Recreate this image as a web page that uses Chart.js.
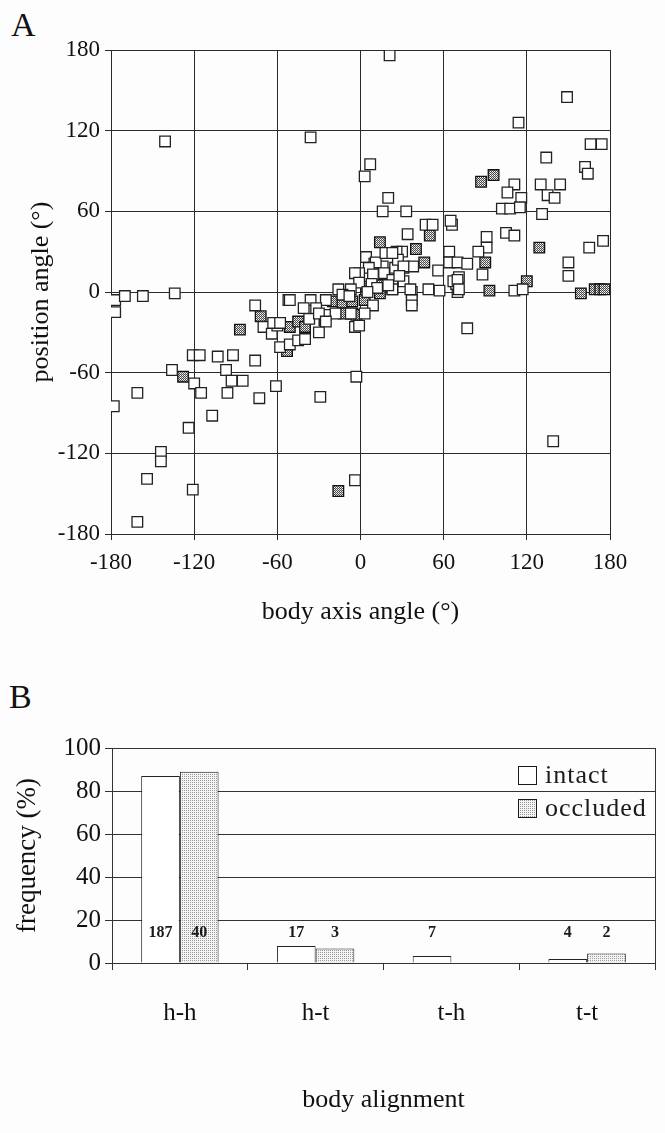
<!DOCTYPE html>
<html>
<head>
<meta charset="utf-8">
<script src="https://cdn.jsdelivr.net/npm/chart.js@4.4.0/dist/chart.umd.min.js"></script>
<style>
	body { margin: 0; background: #fefdfd; width: 665px; height: 1133px; overflow: hidden; position: relative; font-family: 'Liberation Serif', 'DejaVu Serif', serif; }
	canvas { position: absolute; left: 0; }
	#scatterA { top: 0; }
	#barB { top: 700px; }
	.panel { position: absolute; font-size: 34px; color: #111; line-height: 1; }
</style>
</head>
<body>
<div class="panel" style="left:11px;top:8px">A</div>
<div class="panel" style="left:9px;top:680px">B</div>
<canvas id="scatterA" width="665" height="640"></canvas>
<canvas id="barB" width="665" height="433"></canvas>
<script>
const serif = "'Liberation Serif', 'DejaVu Serif', serif";
const ink = '#1a1a1a';

// panel A : body axis angle vs position angle
const angleTicks = [-180, -120, -60, 0, 60, 120, 180];
const intactPoints = [
	[21,176],[149,145],[114,126],[166,110],[174,110],[-141,112],[-36,115],
	[134,100],[162,93],[164,88],[7,95],[3,86],
	[111,80],[106,74],[116,70],[102,62],[108,62],[115,63],
	[130,80],[144,80],[135,72],[140,70],[131,58],
	[20,70],[16,60],[33,60],[47,50],[52,50],[66,50],[65,53],[34,43],
	[30,30],[4,26],[10,21],[16,19],[25,18],[31,18],[38,19],[56,16],
	[91,41],[91,33],[85,30],[105,44],[111,42],[64,30],[64,22],[70,22],[77,21],[88,13],[71,11],
	[165,33],[175,38],[150,22],[150,12],
	[111,1],[117,2],[37,0],[49,2],[57,1],[37,-6],[37,-10],[70,0],[69,6],[67,8],[70,9],[71,2],
	[77,-27],[139,-111],
	[11,22],[18,29],[26,30],[27,24],[23,29],[31,19],[6,18],[-1,14],[9,13],[17,14],[-4,14],[-1,7],
	[-7,2],[-16,2],[-13,-2],[9,-10],[3,-16],[-4,-26],[-1,-25],
	[23,9],[31,8],[23,2],[36,2],[20,5],[28,12],[8,6],[12,3],[5,0],[-8,-3],
	[-177,-6],[-177,-15],[-170,-3],[-157,-3],[-134,-1],
	[-76,-10],[-70,-26],[-64,-31],[-60,-25],[-52,-6],
	[-51,-6],[-36,-6],[-25,-6],
	[-41,-12],[-32,-12],[-25,-17],[-18,-16],[-7,-16],[-37,-20],[-30,-16],[-25,-22],[-30,-30],
	[-63,-23],[-58,-23],
	[-58,-41],[-51,-39],[-45,-36],[-40,-35],
	[-121,-47],[-116,-47],[-103,-48],[-92,-47],[-76,-51],[-97,-58],[-136,-58],
	[-120,-68],[-115,-75],[-93,-66],[-85,-66],[-96,-75],[-73,-79],[-61,-70],[-107,-92],
	[-161,-75],[-178,-85],[-124,-101],[-144,-119],[-144,-126],[-154,-139],[-121,-147],[-161,-171],
	[-29,-78],[-3,-63],[-4,-140]
];
const occludedPoints = [
	[87,82],[96,87],[50,42],[14,37],[40,32],[46,22],[90,22],[129,33],[120,8],
	[159,-1],[169,2],[173,2],[176,2],[93,1],
	[15,13],[15,5],[23,2],[14,-1],[4,4],[14,5],
	[-20,-7],[-13,-8],[-6,-7],[3,-6],[-12,-16],[-6,-16],[-3,-17],
	[-51,-26],[-45,-22],[-40,-26],[-26,-21],
	[-72,-18],[-87,-28],[-53,-44],[-128,-63],[-16,-148]
];

// panel B : body alignment frequencies
const alignments = ['h-h', 'h-t', 't-h', 't-t'];
const intactFreq = [87.0, 7.9, 3.3, 1.9];
const occludedFreq = [88.9, 6.7, 0, 4.4];
const intactCounts = [187, 17, 7, 4];
const occludedCounts = [40, 3, null, 2];
const freqTicks = [0, 20, 40, 60, 80, 100];

function makePattern(w, h, bg, dots) {
	const c = document.createElement('canvas');
	c.width = w; c.height = h;
	const g = c.getContext('2d');
	g.fillStyle = bg;
	g.fillRect(0, 0, w, h);
	dots.forEach(d => {
		g.fillStyle = d[2];
		g.fillRect(d[0], d[1], 1, 1);
	});
	return g.createPattern(c, 'repeat');
}

// speckled fills (occluded)
const darkDots = makePattern(2, 2, '#4a4a4a', [[1,0,'#c8c8c8'],[0,1,'#ffffff']]);
const lightDots = makePattern(2, 2, '#f4f4f4', [[0,0,'#9a9a9a']]);

const toXY = p => ({ x: p[0], y: p[1] });

window.scatter_angle = () => {
	let chartId = 'scatterA';
	const canvas = document.getElementById(chartId);
	if (canvas == null) return;

	const angleAxis = (title, fit, tpad) => ({
		type: 'linear',
		min: -180,
		max: 180,
		afterBuildTicks: s => { s.ticks = angleTicks.map(v => ({ value: v })); },
		afterFit: fit,
		grid: { color: '#2a2a2a', lineWidth: 1, tickLength: 6 },
		border: { color: '#2a2a2a' },
		ticks: { color: '#111', font: { family: serif, size: 23 }, padding: tpad },
		title: { display: true, text: title, color: '#111', font: { family: serif, size: 26 } }
	});

	const xAxis = angleAxis('body axis angle (°)', s => { s.height = 106; }, 9);
	xAxis.title.padding = { top: 0, bottom: 12 };
	const yAxis = angleAxis('position angle (°)', s => { s.width = 111; }, 5);
	yAxis.title.padding = { top: 26, bottom: 0 };

	const config = {
		type: 'scatter',
		data: {
			datasets: [{
				label: 'intact',
				data: intactPoints.map(toXY),
				pointStyle: 'rect',
				pointRadius: 7.5,
				pointBackgroundColor: '#ffffff',
				pointBorderColor: '#222',
				pointBorderWidth: 1.3
			}, {
				label: 'occluded',
				data: occludedPoints.map(toXY),
				pointStyle: 'rect',
				pointRadius: 7.5,
				pointBackgroundColor: darkDots,
				pointBorderColor: '#111',
				pointBorderWidth: 1.3
			}]
		},
		options: {
			responsive: false,
			animation: false,
			layout: { padding: { top: 50, right: 55, left: 0, bottom: 0 } },
			scales: { x: xAxis, y: yAxis },
			plugins: { legend: { display: false }, tooltip: { enabled: false } }
		}
	};
	new Chart(canvas.getContext('2d'), config);
};

window.bar_alignment = () => {
	let chartId = 'barB';
	const canvas = document.getElementById(chartId);
	if (canvas == null) return;

	const frame = {
		id: 'frame',
		afterDatasetsDraw(chart) {
			const { ctx, chartArea } = chart;
			ctx.save();
			ctx.strokeStyle = '#333';
			ctx.lineWidth = 1;
			ctx.beginPath();
			ctx.moveTo(chartArea.right + 0.5, chartArea.top);
			ctx.lineTo(chartArea.right + 0.5, chartArea.bottom);
			ctx.stroke();
			ctx.restore();
		}
	};

	const counts = {
		id: 'counts',
		afterDatasetsDraw(chart) {
			const { ctx, scales } = chart;
			const y = scales.y.getPixelForValue(13.8);
			ctx.save();
			ctx.font = 'bold 16px ' + serif;
			ctx.textAlign = 'center';
			ctx.textBaseline = 'middle';
			ctx.fillStyle = ink;
			[intactCounts, occludedCounts].forEach((list, i) => {
				const meta = chart.getDatasetMeta(i);
				list.forEach((n, j) => {
					if (n != null) ctx.fillText(String(n), meta.data[j].x, y);
				});
			});
			ctx.restore();
		}
	};

	const legendBox = {
		id: 'legendBox',
		afterDraw(chart) {
			const { ctx, chartArea, scales } = chart;
			const rows = [87.5, 72];
			ctx.save();
			ctx.font = '26px ' + serif;
			ctx.textBaseline = 'middle';
			try { ctx.letterSpacing = '1px'; } catch (e) {}
			chart.data.datasets.forEach((ds, i) => {
				const y = Math.round(scales.y.getPixelForValue(rows[i]));
				const bx = Math.round(chartArea.right - 137);
				ctx.fillStyle = ds.backgroundColor;
				ctx.fillRect(bx, y - 9, 18, 18);
				ctx.strokeStyle = ink;
				ctx.lineWidth = 1;
				ctx.strokeRect(bx + 0.5, y - 8.5, 18, 18);
				ctx.fillStyle = ink;
				ctx.fillText(ds.label, bx + 27, y + 1);
			});
			ctx.restore();
		}
	};

	const config = {
		type: 'bar',
		data: {
			labels: alignments,
			datasets: [{
				label: 'intact',
				data: intactFreq,
				backgroundColor: '#ffffff',
				borderColor: '#222',
				borderWidth: 1,
				categoryPercentage: 0.57,
				barPercentage: 1.0
			}, {
				label: 'occluded',
				data: occludedFreq,
				backgroundColor: lightDots,
				borderColor: '#222',
				borderWidth: 1,
				categoryPercentage: 0.57,
				barPercentage: 1.0
			}]
		},
		options: {
			responsive: false,
			animation: false,
			layout: { padding: { top: 48, right: 10, left: 0, bottom: 0 } },
			scales: {
				x: {
					afterFit: s => { s.height = 170; },
					grid: { drawOnChartArea: false, color: '#333', tickLength: 7 },
					border: { color: '#333' },
					ticks: { color: '#111', font: { family: serif, size: 25 }, padding: 28 },
					title: { display: true, text: 'body alignment', color: '#111', font: { family: serif, size: 26 }, padding: { top: 0, bottom: 17 } }
				},
				y: {
					min: 0,
					max: 100,
					afterBuildTicks: s => { s.ticks = freqTicks.map(v => ({ value: v })); },
					afterFit: s => { s.width = 112; },
					grid: { color: '#333', tickLength: 7 },
					border: { color: '#333' },
					ticks: { color: '#111', font: { family: serif, size: 25 }, padding: 4 },
					title: { display: true, text: 'frequency (%)', color: '#111', font: { family: serif, size: 27 }, padding: { top: 12, bottom: 0 } }
				}
			},
			plugins: { legend: { display: false }, tooltip: { enabled: false } }
		},
		plugins: [frame, counts, legendBox]
	};
	new Chart(canvas.getContext('2d'), config);
};

window.scatter_angle();
window.bar_alignment();
</script>
</body>
</html>
